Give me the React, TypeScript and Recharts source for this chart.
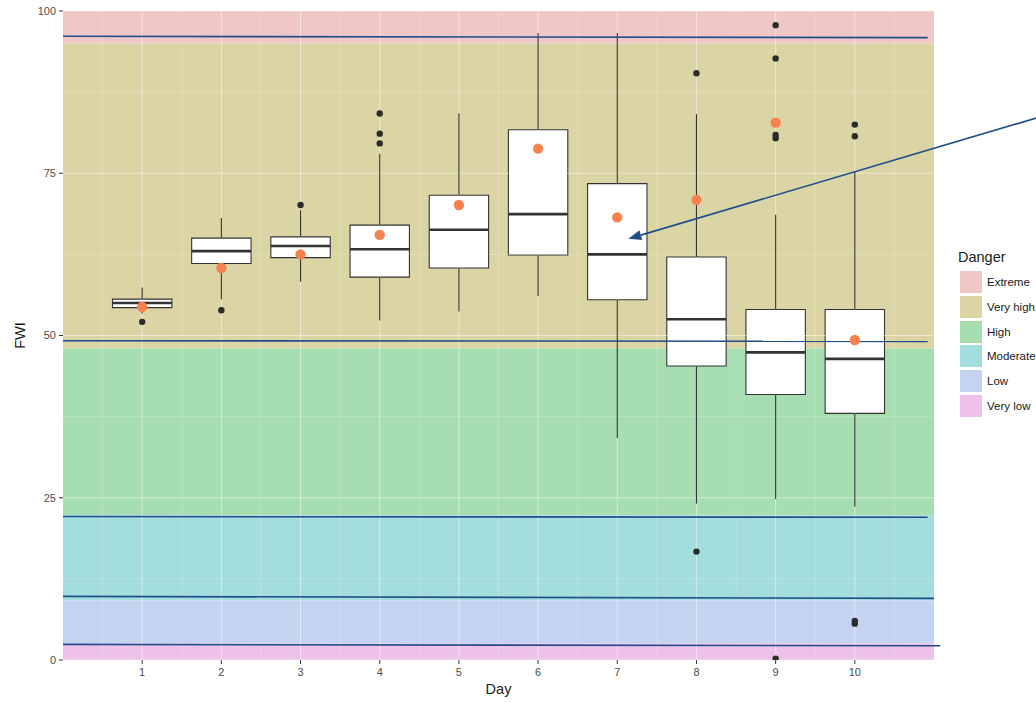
import React from "react";
import {
  ComposedChart,
  XAxis,
  YAxis,
  Scatter,
  ReferenceArea,
  ReferenceLine,
} from "recharts";

const FONT = '"Liberation Sans", Arial, Helvetica, sans-serif';

// box plot summaries per day
const days = [1, 2, 3, 4, 5, 6, 7, 8, 9, 10];
const whiskerLow = [53.4, 55.6, 58.3, 52.3, 53.7, 56.1, 34.2, 24.1, 24.8, 23.6];
const lowerHinge = [54.3, 61.1, 62.0, 59.0, 60.4, 62.4, 55.5, 45.3, 40.9, 38.0];
const medians = [55.0, 63.0, 63.8, 63.3, 66.3, 68.7, 62.5, 52.5, 47.4, 46.4];
const upperHinge = [55.6, 65.0, 65.2, 67.0, 71.6, 81.7, 73.4, 62.1, 54.0, 54.0];
const whiskerHigh = [57.4, 68.1, 69.3, 78.0, 84.2, 96.6, 96.6, 84.1, 68.6, 75.2];
const means = [54.4, 60.4, 62.5, 65.5, 70.1, 78.8, 68.2, 70.9, 82.8, 49.3];
const outliers = [
  [52.1],
  [53.9],
  [70.1],
  [84.2, 81.1, 79.6],
  [],
  [],
  [],
  [90.4, 16.7],
  [97.8, 92.7, 80.9, 80.4, 0.2],
  [82.5, 80.7, 6.0, 5.6],
];

// danger classes (background bands)
const dangerLabels = ["Extreme", "Very high", "High", "Moderate", "Low", "Very low"];
const dangerLower = [95, 48, 22.3, 9.2, 2.6, 0];
const dangerUpper = [100, 95, 48, 22.3, 9.2, 2.6];
const dangerColors = ["#EFC7C7", "#DBD5A5", "#A6DDB1", "#A4DDDE", "#C3D3F0", "#EEC2E8"];

const yTicks = [0, 25, 50, 75, 100];
const yMinor = [12.5, 37.5, 62.5, 87.5];
const xMinor = [0.5, 1.5, 2.5, 3.5, 4.5, 5.5, 6.5, 7.5, 8.5, 9.5, 10.5];

// hand-drawn threshold lines: level at left edge, level at right end, where they stop
const thresholdLeft = [96.1, 49.2, 22.1, 9.8, 2.4];
const thresholdRight = [95.9, 49.1, 22.0, 9.5, 2.2];
const thresholdEnd = [10.92, 10.92, 10.92, 11.0, 11.08];

const arrowFrom = { x: 12.29, y: 83.5 };
const arrowTo = { x: 7.14, y: 64.9 };

const NAVY = "#1F4E8A";
const BOX_HALF = 0.375;

const meanData = days.map((d, i) => ({ x: d, y: means[i] }));
const outlierData = days.flatMap((d, i) => outliers[i].map((v) => ({ x: d, y: v })));

const Arrow = (props: any) => {
  const { x1, y1, x2, y2 } = props;
  const dx = x2 - x1;
  const dy = y2 - y1;
  const len = Math.hypot(dx, dy) || 1;
  const ux = dx / len;
  const uy = dy / len;
  const head = 13;
  const half = 5;
  const bx = x2 - ux * head;
  const by = y2 - uy * head;
  const pts = `${x2},${y2} ${bx - uy * half},${by + ux * half} ${bx + uy * half},${by - ux * half}`;
  return (
    <g>
      <line x1={x1} y1={y1} x2={bx} y2={by} stroke={NAVY} strokeWidth={1.6} />
      <polygon points={pts} fill={NAVY} />
    </g>
  );
};

const tickStyle = { fill: "#4d4d4d", stroke: "none", fontSize: 11, fontFamily: FONT };

const App = () => {
  return (
    <div
      style={{
        position: "fixed",
        left: 0,
        top: 0,
        width: 1036,
        height: 702,
        overflow: "hidden",
        background: "#fff",
        fontFamily: FONT,
      }}
    >
      <ComposedChart
        width={1036}
        height={702}
        margin={{ top: 11, right: 102, bottom: 0, left: 0 }}
      >
        <XAxis
          dataKey="x"
          type="number"
          domain={[0, 11]}
          ticks={days}
          allowDataOverflow
          axisLine={false}
          tickSize={4}
          tickMargin={4}
          tickLine={{ stroke: "#333" }}
          tick={tickStyle}
          height={42}
          label={{
            value: "Day",
            position: "insideBottom",
            offset: 8,
            style: { fill: "#1a1a1a", fontSize: 14.5, fontFamily: FONT },
          }}
        />
        <YAxis
          dataKey="y"
          type="number"
          domain={[0, 100]}
          ticks={yTicks}
          allowDataOverflow
          axisLine={false}
          tickSize={4}
          tickMargin={3}
          tickLine={{ stroke: "#333" }}
          tick={tickStyle}
          width={63}
          label={{
            value: "FWI",
            angle: -90,
            position: "insideLeft",
            offset: 20,
            style: { fill: "#1a1a1a", fontSize: 14.5, fontFamily: FONT, textAnchor: "middle" },
          }}
        />

        {dangerLabels.map((name, i) => (
          <ReferenceArea
            key={name}
            x1={0}
            x2={11}
            y1={dangerLower[i]}
            y2={dangerUpper[i]}
            fill={dangerColors[i]}
            fillOpacity={1}
            stroke="none"
          />
        ))}

        {yMinor.map((v) => (
          <ReferenceLine key={"ym" + v} y={v} stroke="#fff" strokeOpacity={0.3} strokeWidth={0.6} />
        ))}
        {xMinor.map((v) => (
          <ReferenceLine key={"xm" + v} x={v} stroke="#fff" strokeOpacity={0.3} strokeWidth={0.6} />
        ))}
        {yTicks.map((v) => (
          <ReferenceLine key={"yM" + v} y={v} stroke="#fff" strokeOpacity={0.45} strokeWidth={1.1} />
        ))}
        {days.map((v) => (
          <ReferenceLine key={"xM" + v} x={v} stroke="#fff" strokeOpacity={0.45} strokeWidth={1.1} />
        ))}

        {days.map((d, i) => (
          <ReferenceLine
            key={"wl" + d}
            segment={[
              { x: d, y: whiskerLow[i] },
              { x: d, y: lowerHinge[i] },
            ]}
            stroke="#333"
            strokeWidth={1.1}
          />
        ))}
        {days.map((d, i) => (
          <ReferenceLine
            key={"wh" + d}
            segment={[
              { x: d, y: upperHinge[i] },
              { x: d, y: whiskerHigh[i] },
            ]}
            stroke="#333"
            strokeWidth={1.1}
          />
        ))}
        {days.map((d, i) => (
          <ReferenceArea
            key={"box" + d}
            x1={d - BOX_HALF}
            x2={d + BOX_HALF}
            y1={lowerHinge[i]}
            y2={upperHinge[i]}
            fill="#fff"
            fillOpacity={1}
            stroke="#333"
            strokeWidth={1.1}
          />
        ))}
        {days.map((d, i) => (
          <ReferenceLine
            key={"med" + d}
            segment={[
              { x: d - BOX_HALF, y: medians[i] },
              { x: d + BOX_HALF, y: medians[i] },
            ]}
            stroke="#333"
            strokeWidth={2.6}
          />
        ))}

        {thresholdLeft.map((v, i) => (
          <ReferenceLine
            key={"th" + i}
            segment={[
              { x: 0, y: v },
              { x: thresholdEnd[i], y: thresholdRight[i] },
            ]}
            stroke={NAVY}
            strokeWidth={1.6}
            ifOverflow="visible"
          />
        ))}
        <ReferenceLine
          segment={[arrowFrom, arrowTo]}
          ifOverflow="visible"
          shape={Arrow}
        />

        <Scatter
          data={outlierData}
          isAnimationActive={false}
          shape={(p: any) => <circle cx={p.cx} cy={p.cy} r={3.2} fill="#2b2b2b" />}
        />
        <Scatter
          data={meanData}
          isAnimationActive={false}
          shape={(p: any) => <circle cx={p.cx} cy={p.cy} r={5.2} fill="#F8824F" />}
        />
      </ComposedChart>

      <div
        style={{
          position: "absolute",
          left: 958,
          top: 249,
          fontSize: 14.5,
          color: "#1a1a1a",
          whiteSpace: "nowrap",
        }}
      >
        Danger
      </div>
      {dangerLabels.map((name, i) => (
        <div
          key={name}
          style={{
            position: "absolute",
            left: 960,
            top: 271 + i * 24.75,
            height: 22,
            display: "flex",
            alignItems: "center",
            whiteSpace: "nowrap",
          }}
        >
          <div style={{ width: 22, height: 22, background: dangerColors[i] }} />
          <span style={{ marginLeft: 5, fontSize: 11.5, color: "#1a1a1a" }}>{name}</span>
        </div>
      ))}
    </div>
  );
};

export default App;
